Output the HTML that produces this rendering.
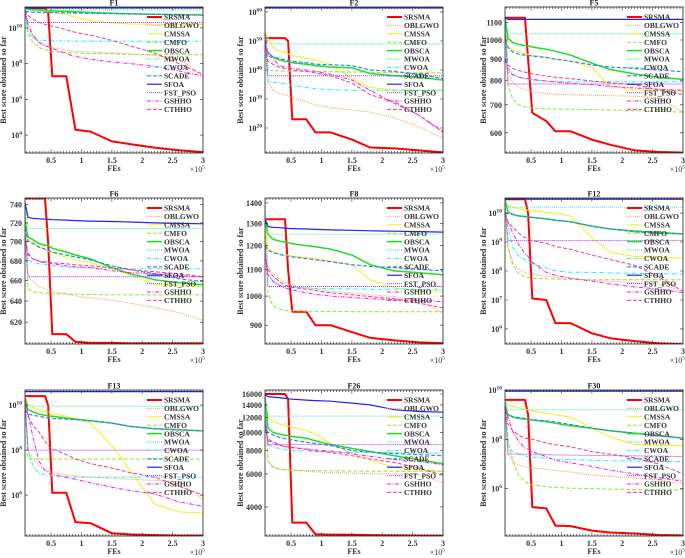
<!DOCTYPE html>
<html><head><meta charset="utf-8"><style>
html,body{margin:0;padding:0;background:#fff;}
svg{display:block;font-family:"Liberation Serif",serif;}
</style></head><body>
<svg id="chart" width="685" height="558" viewBox="0 0 685 558" xmlns="http://www.w3.org/2000/svg"></svg>
<script>
// shared x grid (FEs / 1e5)
const xs = [0.07,0.12,0.2,0.3,0.4,0.45,0.52,0.75,0.9,1.15,1.5,1.8,2.2,2.6,3];
const xTicks = [0.5,1,1.5,2,2.5,3];
const xTickLabels = ["0.5","1","1.5","2","2.5","3"];
const algos = ["SRSMA","OBLGWO","CMSSA","CMFO","OBSCA","MWOA","CWOA","SCADE","SFOA","FST_PSO","GSHHO","CTHHO"];

// ---- F1 (log10 of score) ----
const f1SRSMA=[11.1,11.1,11.1,11.1,11.1,10.9,7.3,7.3,4.3,4.2,3.65,3.5,3.3,3.15,3.05];
const f1OBLGWO=[11.1,10.0,9.5,9.2,9.0,8.95,8.9,8.75,8.7,8.65,8.6,8.55,8.45,8.3,7.3];
const f1CMSSA=[11.1,11.0,11.0,10.95,10.9,10.9,10.88,10.75,10.6,10.4,10.28,10.22,10.2,10.2,10.2];
const f1CMFO=[11.0,9.6,9.2,8.9,8.78,8.72,8.68,8.62,8.6,8.57,8.55,8.52,8.5,8.5,8.5];
const f1OBSCA=[11.1,11.05,11.0,11.0,10.97,10.96,10.95,10.92,10.9,10.86,10.82,10.79,10.76,10.74,10.72];
const f1MWOA=[11.05,11.0,11.0,11.0,11.0,11.0,11.0,11.0,11.0,11.0,11.0,11.0,11.0,11.0,11.0];
const f1CWOA=[11.0,9.8,9.4,9.32,9.3,9.3,9.28,9.27,9.26,9.25,9.25,9.25,9.25,9.25,9.25];
const f1SCADE=[10.95,10.9,10.88,10.87,10.86,10.86,10.85,10.84,10.83,10.82,10.8,10.78,10.76,10.74,10.72];
const f1SFOA=[11.13,11.12,11.12,11.12,11.12,11.12,11.12,11.12,11.12,11.12,11.12,11.12,11.12,11.12,11.12];
const f1FSTPSO=[11.0,10.3,10.3,10.3,10.3,10.3,10.3,10.3,10.3,10.3,10.3,10.3,10.3,10.3,10.3];
const f1GSHHO=[10.8,10.2,9.6,9.2,9.0,8.95,8.85,8.55,8.4,8.25,8.1,8.0,7.85,7.6,7.3];
const f1CTHHO=[11.0,10.7,10.5,10.3,10.2,10.15,10.1,9.9,9.75,9.6,9.3,9.0,8.6,8.0,7.4];

// ---- F2 (log10) ----
const f2SRSMA=[51,51,51,51,51,50,23,23,18.5,18.5,16,13.3,13,12.3,11.6];
const f2OBLGWO=[55,36,33,32,31.5,31,30.5,29,28,27,26.2,25.5,23.5,20.5,16.5];
const f2CMSSA=[53,51,48,46.5,46,45.5,45,44,43.5,42,37,34,33,33,33];
const f2CMFO=[52,40,39.8,39.7,39.6,39.6,39.6,39.5,39.5,39.4,39.3,39.2,39.1,39.0,39.0];
const f2OBSCA=[48,46,44.5,43.5,43,42.8,42.5,42,41.5,41,40.8,38.8,38,37.5,36.5];
const f2MWOA=[52,49,49,49,49,49,49,49,49,49,49,49,49,49,49];
const f2CWOA=[48,36,35.8,35.5,35.2,35,34.7,34,33.5,33.2,33,33,33,33,33];
const f2SCADE=[49,46,44.5,44,43.5,43.3,43,42.5,42,41.8,41.5,40,39.5,38.5,37];
const f2SFOA=[61.4,61.4,61.4,61.4,61.4,61.4,61.4,61.4,61.4,61.4,61.4,61.4,61.4,61.4,61.4];
const f2FSTPSO=[50,38,38,38,38,38,38,38,38,38,38,38,38,38,38];
const f2GSHHO=[53,45,44,41.5,41,41,40.5,40,39.5,38.5,36.5,33,28.5,24.5,18.8];
const f2CTHHO=[50,43,42,41,40.5,40.3,40,39.5,39,38,35.5,31.5,29,24.5,18.5];

// ---- F5 (raw score) ----
const f5SRSMA=[1130,1130,1130,1130,1130,900,670,640,605,605,578,562,545,540,538];
const f5OBLGWO=[1150,840,790,770,760,758,752,745,742,740,738,736,734,728,672];
const f5CMSSA=[1100,965,945,935,928,925,920,910,900,890,860,775,760,757,755];
const f5CMFO=[1100,780,720,700,692,690,688,685,684,683,682,680,678,676,672];
const f5OBSCA=[1140,1010,985,975,970,968,962,950,940,920,880,850,830,815,805];
const f5MWOA=[1130,1035,1035,1035,1035,1035,1035,1035,1035,1035,1035,1035,1035,1035,1035];
const f5CWOA=[1120,860,830,815,808,805,802,798,796,795,795,795,795,795,795];
const f5SCADE=[1000,960,935,925,920,918,915,908,900,890,872,862,855,848,840];
const f5SFOA=[1130,1120,1120,1120,1120,1120,1120,1120,1120,1120,1120,1120,1120,1120,1120];
const f5FSTPSO=[1100,785,785,785,785,785,785,785,785,785,785,785,785,785,785];
const f5GSHHO=[900,845,825,815,810,808,805,798,793,788,782,775,768,763,758];
const f5CTHHO=[900,870,855,845,838,835,830,820,815,808,798,790,782,760,740];

// ---- F6 (raw) ----
const f6SRSMA=[747,747,747,747,747,700,609,609,602,601,601,600.5,600.5,600.5,600.5];
const f6OBLGWO=[730,665,659,654,652,651,649,647,645,643,641,638,634,629,622];
const f6CMSSA=[725,702,699,695,692,690,688,684,681,678,672,666,656,655,654];
const f6CMFO=[740,652,649,648,648,647.5,647,647,646.5,646.5,646,646,646,646,646];
const f6OBSCA=[722,705,702,698,696,696,693,689,686,682,673,667,661,658,656];
const f6MWOA=[735,714,714,714,714,714,714,714,714,714,714,714,714,714,714];
const f6CWOA=[705,681,678,677,676,676,675,674,673,673,672,672,672,672,672];
const f6SCADE=[715,700,698,694,692,691,689,686,684,681,675,671,667,662,659];
const f6SFOA=[742,726,725,724.5,724,724,723.5,723,722.5,722,721.5,721,720,719.5,719];
const f6FSTPSO=[700,664,664,664,664,664,664,664,664,664,664,664,664,664,664];
const f6GSHHO=[705,688,682,679,678,678,677,675,674,673,670,668,667,665,664];
const f6CTHHO=[700,686,682,680,679,679,678,677,676,675,673,671,669,667,664];

// ---- F8 (raw) ----
const f8SRSMA=[1320,1320,1320,1320,1320,1100,945,945,900,900,878,860,852,846,843];
const f8OBLGWO=[1400,1110,1085,1065,1050,1045,1038,1030,1025,1018,1012,1005,998,985,940];
const f8CMSSA=[1300,1190,1175,1165,1160,1160,1155,1150,1145,1135,1120,1060,1030,1020,1018];
const f8CMFO=[1300,1010,965,955,950,949,948,947,946,946,945,945,945,945,945];
const f8OBSCA=[1320,1250,1228,1220,1215,1212,1208,1200,1195,1185,1160,1120,1095,1088,1080];
const f8MWOA=[1350,1250,1250,1250,1250,1250,1250,1250,1250,1250,1250,1250,1250,1250,1250];
const f8CWOA=[1200,1080,1055,1040,1035,1033,1032,1030,1028,1027,1026,1025,1025,1025,1025];
const f8SCADE=[1200,1180,1170,1163,1157,1155,1152,1145,1140,1132,1120,1113,1108,1102,1095];
const f8SFOA=[1320,1285,1282,1280,1278,1277,1276,1274,1272,1270,1268,1266,1264,1262,1260];
const f8FSTPSO=[1200,1035,1035,1035,1035,1035,1035,1035,1035,1035,1035,1035,1035,1035,1035];
const f8GSHHO=[1150,1080,1055,1040,1030,1027,1022,1012,1006,1000,995,990,987,984,980];
const f8CTHHO=[1150,1100,1075,1055,1040,1037,1032,1025,1020,1012,1005,998,990,975,958];

// ---- F12 (log10) ----
const f12SRSMA=[10.48,10.48,10.48,10.48,10.48,10.0,7.05,7.0,6.2,6.2,5.85,5.68,5.58,5.5,5.47];
const f12OBLGWO=[10.3,8.8,8.3,8.05,7.95,7.92,7.9,7.82,7.78,7.74,7.68,7.64,7.6,7.55,7.3];
const f12CMSSA=[10.35,10.25,10.2,10.15,10.12,10.1,10.08,10.03,10.0,9.9,9.15,8.65,8.5,8.47,8.45];
const f12CMFO=[10.2,8.8,8.2,7.9,7.8,7.78,7.75,7.73,7.72,7.71,7.7,7.7,7.7,7.7,7.7];
const f12OBSCA=[10.45,10.05,9.95,9.9,9.88,9.86,9.85,9.8,9.75,9.7,9.55,9.45,9.38,9.33,9.28];
const f12MWOA=[10.45,10.2,10.2,10.2,10.2,10.2,10.2,10.2,10.2,10.2,10.2,10.2,10.2,10.2,10.2];
const f12CWOA=[10.2,9.5,8.8,8.5,8.4,8.35,8.25,8.1,8.0,7.96,7.95,7.93,7.92,7.91,7.9];
const f12SCADE=[10.0,9.98,9.95,9.9,9.88,9.86,9.85,9.8,9.75,9.7,9.55,9.45,9.35,9.3,9.28];
const f12SFOA=[10.5,10.48,10.48,10.48,10.48,10.48,10.48,10.48,10.48,10.48,10.48,10.48,10.48,10.48,10.48];
const f12FSTPSO=[10.3,9.05,9.05,9.05,9.05,9.05,9.05,9.05,9.05,9.05,9.05,9.05,9.05,9.05,9.05];
const f12GSHHO=[10.0,9.7,9.3,8.9,8.6,8.5,8.3,7.95,7.85,7.75,7.65,7.55,7.45,7.38,7.25];
const f12CTHHO=[10.0,9.7,9.5,9.3,9.15,9.1,9.05,8.95,8.85,8.75,8.55,8.4,8.2,7.8,7.3];

// ---- F13 (log10) ----
const f13SRSMA=[10.4,10.4,10.4,10.4,10.4,10.0,6.1,6.1,4.8,4.75,4.3,4.25,4.22,4.2,4.2];
const f13OBLGWO=[10.4,8.0,7.6,7.3,7.1,7.05,7.0,6.9,6.85,6.8,6.75,6.7,6.65,6.6,5.8];
const f13CMSSA=[10.35,10.05,9.9,9.8,9.72,9.7,9.62,9.5,9.42,9.2,8.2,7.1,5.6,5.25,5.2];
const f13CMFO=[10.0,7.6,7.6,7.6,7.6,7.6,7.6,7.6,7.6,7.6,7.6,7.6,7.6,7.6,7.6];
const f13OBSCA=[10.3,9.8,9.7,9.6,9.55,9.52,9.5,9.42,9.37,9.3,9.2,9.05,8.95,8.9,8.85];
const f13MWOA=[10.4,9.95,9.95,9.95,9.95,9.95,9.95,9.95,9.95,9.95,9.95,9.95,9.95,9.95,9.95];
const f13CWOA=[10.3,8.0,7.3,7.0,6.9,6.87,6.85,6.82,6.8,6.8,6.8,6.8,6.8,6.8,6.8];
const f13SCADE=[9.8,9.6,9.55,9.5,9.45,9.43,9.4,9.38,9.35,9.3,9.2,9.05,8.95,8.9,8.85];
const f13SFOA=[10.6,10.6,10.6,10.6,10.6,10.6,10.6,10.6,10.6,10.6,10.6,10.6,10.6,10.6,10.6];
const f13FSTPSO=[10.2,8.0,8.0,8.0,8.0,8.0,8.0,8.0,8.0,8.0,8.0,8.0,8.0,8.0,8.0];
const f13GSHHO=[10.3,9.6,8.6,7.5,7.1,7.0,6.92,6.78,6.7,6.55,6.35,6.2,6.05,5.7,5.5];
const f13CTHHO=[10.3,9.5,9.1,8.8,8.4,8.2,8.05,7.8,7.6,7.4,7.2,7.0,6.8,6.4,6.0];

// ---- F26 (raw) ----
const f26SRSMA=[16000,16000,16000,16000,16000,15000,3300,3300,2860,2850,2840,2830,2820,2815,2810];
const f26OBLGWO=[16000,7000,6600,6400,6320,6300,6270,6200,6150,6100,6050,6020,6000,5950,5400];
const f26CMSSA=[15500,12000,11500,11100,10900,10800,10600,10200,9800,8700,7700,7100,6500,6300,6200];
const f26CMFO=[16000,7000,6500,6350,6300,6280,6270,6250,6240,6230,6220,6210,6200,6200,6200];
const f26OBSCA=[15500,10500,10000,9800,9650,9600,9500,9300,9000,8600,8200,7900,7500,7150,6800];
const f26MWOA=[15000,12200,12200,12200,12200,12200,12200,12200,12200,12200,12200,12200,12200,12200,12200];
const f26CWOA=[14000,8600,8350,8200,8100,8050,8000,7950,7900,7870,7830,7800,7780,7760,7750];
const f26SCADE=[11000,10000,9700,9400,9250,9200,9100,8850,8700,8500,8000,7850,7700,7600,7500];
const f26SFOA=[15800,15500,15400,15300,15150,15100,15000,14850,14750,14650,14300,14000,13200,12900,12800];
const f26FSTPSO=[12000,8600,8600,8600,8600,8600,8600,8600,8600,8600,8600,8600,8600,8600,8600];
const f26GSHHO=[11000,9000,8800,8500,8400,8350,8300,8150,8050,7950,7700,7450,7150,7000,6700];
const f26CTHHO=[10500,9200,8900,8600,8400,8350,8300,8100,7950,7800,7500,7200,6900,6450,5900];

// ---- F30 (log10) ----
const f30SRSMA=[9.6,9.6,9.6,9.6,9.6,9.0,5.25,5.2,4.5,4.48,4.3,4.22,4.18,4.12,4.1];
const f30OBLGWO=[9.6,7.4,7.1,6.95,6.9,6.87,6.85,6.78,6.73,6.68,6.55,6.5,6.43,6.35,6.2];
const f30CMSSA=[9.5,9.4,9.35,9.28,9.22,9.2,9.15,9.05,9.0,8.9,8.45,8.1,7.8,7.75,7.75];
const f30CMFO=[9.5,8.0,7.1,6.5,6.3,6.2,6.15,6.08,6.05,6.02,6.0,5.98,5.97,5.96,5.95];
const f30OBSCA=[9.4,9.0,8.9,8.85,8.82,8.8,8.78,8.72,8.65,8.55,8.45,8.35,8.25,8.15,8.05];
const f30MWOA=[9.6,9.2,9.2,9.2,9.2,9.2,9.2,9.2,9.2,9.2,9.2,9.2,9.2,9.2,9.2];
const f30CWOA=[9.5,7.7,7.5,7.4,7.33,7.3,7.28,7.24,7.2,7.18,7.15,7.13,7.12,7.11,7.1];
const f30SCADE=[9.1,9.0,8.92,8.88,8.85,8.82,8.8,8.75,8.7,8.6,8.45,8.35,8.25,8.15,8.05];
const f30SFOA=[9.95,9.95,9.95,9.95,9.95,9.95,9.95,9.95,9.95,9.95,9.95,9.95,9.95,9.95,9.95];
const f30FSTPSO=[9.4,7.4,7.4,7.4,7.4,7.4,7.4,7.38,7.37,7.36,7.35,7.34,7.33,7.32,7.3];
const f30GSHHO=[9.3,8.9,8.3,7.9,7.65,7.6,7.5,7.3,7.15,7.05,6.9,6.75,6.6,6.45,6.3];
const f30CTHHO=[9.4,8.6,8.35,8.15,8.05,8.02,8.0,7.85,7.78,7.7,7.5,7.4,7.25,7.0,6.6];

// y tick values
const f1Ticks=[4,6,8,10], f2Ticks=[20,30,40,50,60], f5Ticks=[600,700,800,900,1000,1100];
const f6Ticks=[620,640,660,680,700,720,740], f8Ticks=[900,1000,1100,1200,1300,1400];
const f12Ticks=[6,7,8,9,10], f13Ticks=[6,8,10], f26Ticks=[4000,6000,8000,10000,12000,14000,16000], f30Ticks=[6,8,10];

const styles = {
  SRSMA:{c:"#ff0000",w:2,d:""}, OBLGWO:{c:"#f5a060",w:1,d:"1,1"}, CMSSA:{c:"#f0f020",w:1,d:""},
  CMFO:{c:"#99e040",w:1,d:"4,2"}, OBSCA:{c:"#22dd22",w:1.5,d:""}, MWOA:{c:"#40f0a0",w:1,d:"1,1"},
  CWOA:{c:"#30e8f0",w:1,d:"4,1.5,1,1.5"}, SCADE:{c:"#3a80f0",w:1.2,d:"4,2"}, SFOA:{c:"#2222ee",w:1.2,d:""},
  FST_PSO:{c:"#9933ff",w:1,d:"1,1"}, GSHHO:{c:"#ee22ee",w:1,d:"4,1.5,1,1.5"}, CTHHO:{c:"#ee3d8a",w:1,d:"4,2"}
};

const panels = [
  {id:"f1",title:"F1",col:0,row:0,exp:true,dom:[3,11.17],ticks:f1Ticks,s:[f1SRSMA,f1OBLGWO,f1CMSSA,f1CMFO,f1OBSCA,f1MWOA,f1CWOA,f1SCADE,f1SFOA,f1FSTPSO,f1GSHHO,f1CTHHO]},
  {id:"f2",title:"F2",col:1,row:0,exp:true,dom:[11.4,61.7],ticks:f2Ticks,s:[f2SRSMA,f2OBLGWO,f2CMSSA,f2CMFO,f2OBSCA,f2MWOA,f2CWOA,f2SCADE,f2SFOA,f2FSTPSO,f2GSHHO,f2CTHHO]},
  {id:"f5",title:"F5",col:2,row:0,exp:false,dom:[537,1199],ticks:f5Ticks,s:[f5SRSMA,f5OBLGWO,f5CMSSA,f5CMFO,f5OBSCA,f5MWOA,f5CWOA,f5SCADE,f5SFOA,f5FSTPSO,f5GSHHO,f5CTHHO]},
  {id:"f6",title:"F6",col:0,row:1,exp:false,dom:[600,747.5],ticks:f6Ticks,s:[f6SRSMA,f6OBLGWO,f6CMSSA,f6CMFO,f6OBSCA,f6MWOA,f6CWOA,f6SCADE,f6SFOA,f6FSTPSO,f6GSHHO,f6CTHHO]},
  {id:"f8",title:"F8",col:1,row:1,exp:false,dom:[841,1425],ticks:f8Ticks,s:[f8SRSMA,f8OBLGWO,f8CMSSA,f8CMFO,f8OBSCA,f8MWOA,f8CWOA,f8SCADE,f8SFOA,f8FSTPSO,f8GSHHO,f8CTHHO]},
  {id:"f12",title:"F12",col:2,row:1,exp:true,dom:[5.48,10.52],ticks:f12Ticks,s:[f12SRSMA,f12OBLGWO,f12CMSSA,f12CMFO,f12OBSCA,f12MWOA,f12CWOA,f12SCADE,f12SFOA,f12FSTPSO,f12GSHHO,f12CTHHO]},
  {id:"f13",title:"F13",col:0,row:2,exp:true,dom:[4.18,10.67],ticks:f13Ticks,s:[f13SRSMA,f13OBLGWO,f13CMSSA,f13CMFO,f13OBSCA,f13MWOA,f13CWOA,f13SCADE,f13SFOA,f13FSTPSO,f13GSHHO,f13CTHHO]},
  {id:"f26",title:"F26",col:1,row:2,exp:false,dom:[2800,16800],ticks:f26Ticks,s:[f26SRSMA,f26OBLGWO,f26CMSSA,f26CMFO,f26OBSCA,f26MWOA,f26CWOA,f26SCADE,f26SFOA,f26FSTPSO,f26GSHHO,f26CTHHO]},
  {id:"f30",title:"F30",col:2,row:2,exp:true,dom:[4.08,10.0],ticks:f30Ticks,s:[f30SRSMA,f30OBLGWO,f30CMSSA,f30CMFO,f30OBSCA,f30MWOA,f30CWOA,f30SCADE,f30SFOA,f30FSTPSO,f30GSHHO,f30CTHHO]}
];

const NS="http://www.w3.org/2000/svg";
const svg=document.getElementById("chart");
const colLeft=[25,265,505], rowTop=[7,198,390], PW=178, PH=146, XMIN=0.07, XMAX=3;
function mk(tag,attrs,parent){const e=document.createElementNS(NS,tag);for(const k in attrs)e.setAttribute(k,attrs[k]);parent.appendChild(e);return e;}

panels.forEach(p=>{
  const L=colLeft[p.col], T=rowTop[p.row], R=L+PW, B=T+PH;
  const g=mk("g",{},svg);
  
  
  const xS=v=>L+(v-XMIN)/(XMAX-XMIN)*PW;
  const tr=v=>p.exp?v:Math.log10(v);
  const d0=tr(p.dom[0]), d1=tr(p.dom[1]);
  const yS=v=>B-(tr(v)-d0)/(d1-d0)*PH;
  const cp=mk("clipPath",{id:"clip-"+p.id},g);
  mk("rect",{x:L,y:T,width:PW,height:PH},cp);
  // series
  const sg=mk("g",{"clip-path":"url(#clip-"+p.id+")"},g);
  algos.forEach((a,i)=>{
    const st=styles[a];
    const pts=p.s[i].map((v,j)=>xS(xs[j]).toFixed(1)+","+yS(v).toFixed(1)).join(" ");
    const pl=mk("polyline",{points:pts,fill:"none",stroke:st.c,"stroke-width":st.w,"stroke-dasharray":st.d,"stroke-linejoin":"round"},sg);
    
    
  });
  // frame
  const fr=mk("rect",{x:L,y:T,width:PW,height:PH,fill:"none",stroke:"#222","stroke-width":0.8},g);
  
  
  // x minor ticks
  let tk="";
  for(let v=0.1; v<=3.001; v+=0.05){const x=xS(v).toFixed(1);tk+=`M${x},${B}v-2M${x},${T}v2`;}
  xTicks.forEach(v=>{const x=xS(v).toFixed(1);tk+=`M${x},${B}v-3.5M${x},${T}v3.5`;});
  p.ticks.forEach(v=>{const y=yS(v).toFixed(1);tk+=`M${L},${y}h3M${R},${y}h-3`;});
  mk("path",{d:tk,stroke:"#222","stroke-width":0.6,fill:"none"},g);
  // x tick labels
  xTicks.forEach((v,i)=>{
    const t=mk("text",{x:xS(v),y:B+10,"font-size":8,"font-weight":"bold","text-anchor":"middle",fill:"#333"},g);
    t.textContent=xTickLabels[i];
    
    
  });
  // y tick labels
  p.ticks.forEach(v=>{
    const t=mk("text",{x:L-3,y:yS(v)+3,"font-size":8,"font-weight":"bold","text-anchor":"end",fill:"#333"},g);
    
    
    if(p.exp){
      t.appendChild(document.createTextNode("10"));
      const s=mk("tspan",{dy:-3.5,"font-size":5.5},t); s.textContent=String(v);
    } else t.textContent=String(v);
  });
  // title
  const ti=mk("text",{x:L+PW/2,y:T-1.5,"font-size":8,"font-weight":"bold","text-anchor":"middle",fill:"#222"},g);
  ti.textContent=p.title;
  
  
  // x label
  const xl=mk("text",{x:L+PW/2,y:B+18,"font-size":8,"font-weight":"bold","text-anchor":"middle",fill:"#333"},g);
  xl.textContent="FEs";
  
  
  const xm=mk("text",{x:R+2,y:B+19,"font-size":8,"text-anchor":"end",fill:"#333"},g);
  xm.appendChild(document.createTextNode("×10"));
  const xs5=mk("tspan",{dy:-3.5,"font-size":5.5},xm); xs5.textContent="5";
  
  
  // y label
  const yx=L-(p.col===1?22:19), yy=T+PH/2;
  const yl=mk("text",{x:yx,y:yy,"font-size":8,"font-weight":"bold","text-anchor":"middle",fill:"#333",transform:`rotate(-90 ${yx} ${yy})`},g);
  yl.textContent="Best score obtained so far";
  
  
  // legend
  const lg=mk("g",{},g);
  
  
  algos.forEach((a,i)=>{
    const st=styles[a], ly=T+10+i*8.4;
    const eg=mk("g",{},lg);
    
    
    mk("line",{x1:L+122,x2:L+137,y1:ly,y2:ly,stroke:st.c,"stroke-width":st.w,"stroke-dasharray":st.d},eg);
    const lt=mk("text",{x:L+139,y:ly+2.7,"font-size":7.5,"font-weight":"bold",fill:"#333"},eg);
    lt.textContent=a;
  });
});
</script>
</body></html>
